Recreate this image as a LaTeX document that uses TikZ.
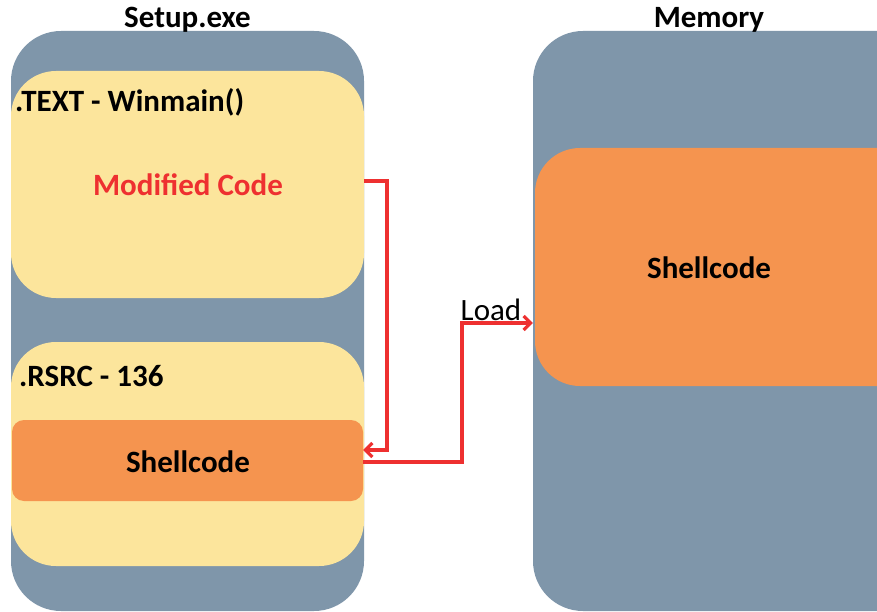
\documentclass[tikz,border=0pt]{standalone}
\usepackage{fontspec}
\setmainfont{Carlito}
\usetikzlibrary{arrows.meta}
\definecolor{slate}{RGB}{127,150,170}
\definecolor{paleyellow}{RGB}{252,229,156}
\definecolor{codeorange}{RGB}{245,148,79}
\definecolor{linkred}{RGB}{238,48,48}
\tikzset{
  panel/.style={fill=slate, draw=none, rounded corners=50pt, inner sep=0pt},
  section/.style={fill=paleyellow, draw=none, rounded corners=45pt, inner sep=0pt},
  payload/.style={fill=codeorange, draw=none, inner sep=0pt},
  big/.style={font=\fontsize{31}{36}\selectfont\bfseries},
  plain/.style={font=\fontsize{31}{36}\selectfont},
  link/.style={draw=linkred, line width=3.2pt, -{Straight Barb[length=7pt,width=14pt,line width=3.2pt]}},
}
\begin{document}
\begin{tikzpicture}[x=1pt,y=-1pt]
  \clip (0,0) rectangle (877,612);
  \fill[white] (0,0) rectangle (877,612);

  % executable on disk
  \node[panel, minimum width=353pt, minimum height=580pt] (exe) at (187.5,321) {};
  \node[big, anchor=base] (exetitle) at (187.5,28) {Setup.exe};
  \node[section, minimum width=353pt, minimum height=227pt] (textsec) at (187.5,184.5) {};
  \node[big, anchor=base west, inner sep=0pt] (textlbl) at (15,112) {.TEXT - Winmain()};
  \node[big, text=linkred, anchor=base] (modcode) at (188,196) {Modified Code};
  \node[section, minimum width=353pt, minimum height=224pt] (rsrc) at (187.5,454) {};
  \node[big, anchor=base west, inner sep=0pt] (rsrclbl) at (19,386) {.RSRC - 136};
  \node[payload, rounded corners=12pt, minimum width=351pt, minimum height=81pt] (shell) at (187.5,460.5) {};
  \node[big, anchor=base] (shelllbl) at (188,472) {Shellcode};

  % process memory
  \node[panel, minimum width=400pt, minimum height=580pt] (mem) at (733,321) {};
  \node[big, anchor=base] (memtitle) at (709,28) {Memory};
  \node[payload, rounded corners=45pt, minimum width=400pt, minimum height=238pt] (memshell) at (735,267) {};
  \node[big, anchor=base] (memlbl) at (709,278) {Shellcode};

  % connectors
  \coordinate (modout) at (textsec.east |- 0,181);
  \coordinate (shellin) at (shell.east |- 0,450);
  \coordinate (shellout) at (shell.east |- 0,462);
  \coordinate (memin) at (mem.west |- 0,323);
  \draw[link] (modout) -- (387,181) -- (387,450) -- (shellin);
  \draw[link] (shellout) -- (462,462) -- (462,323) -- (memin);
  \node[plain, anchor=base, inner sep=0pt] (load) at (491,320) {Load};
\end{tikzpicture}
\end{document}
